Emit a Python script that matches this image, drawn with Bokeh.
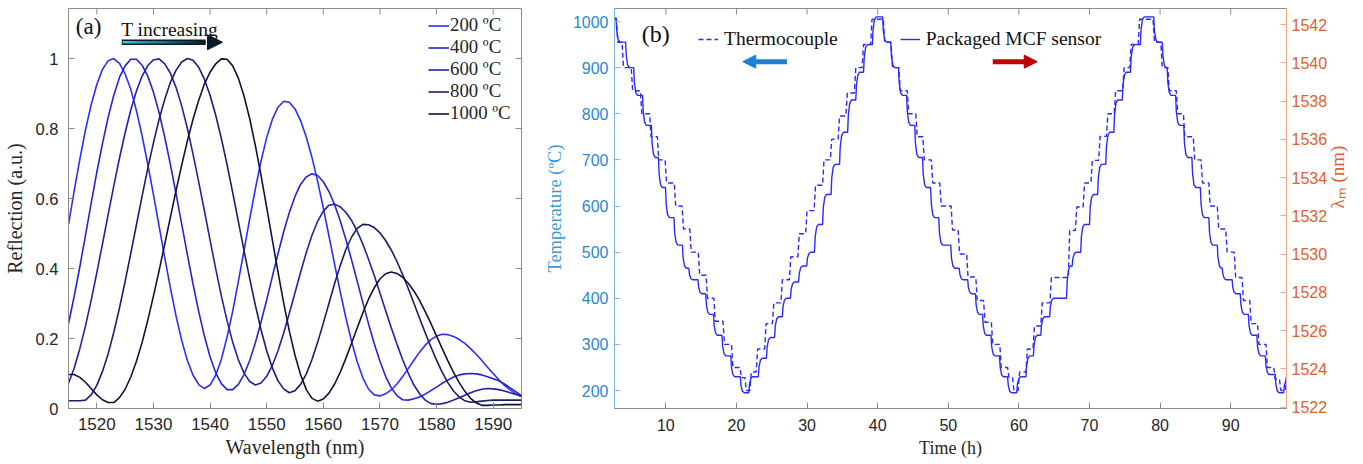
import math
from bokeh.plotting import figure
from bokeh.layouts import row
from bokeh.models import (Range1d, LinearAxis, FixedTicker, Legend, LegendItem,
                          Label, Arrow, NormalHead)
from bokeh.embed import file_html
from bokeh.resources import INLINE

# ---------------- Panel (a) data : reflection spectra ----------------
wavelength = list(range(1515, 1596))
refl_200 = [0.526, 0.621, 0.712, 0.796, 0.868, 0.926, 0.969, 0.994, 1.000, 0.986,
            0.956, 0.912, 0.851, 0.779, 0.698, 0.611, 0.521, 0.431, 0.344, 0.264,
            0.194, 0.137, 0.095, 0.068, 0.057, 0.067, 0.095, 0.141, 0.204, 0.278,
            0.363, 0.452, 0.542, 0.628, 0.707, 0.774, 0.826, 0.861, 0.878, 0.875,
            0.856, 0.822, 0.775, 0.717, 0.649, 0.573, 0.493, 0.412, 0.333, 0.258,
            0.191, 0.133, 0.087, 0.055, 0.039, 0.036, 0.042, 0.053, 0.070, 0.091,
            0.114, 0.138, 0.161, 0.181, 0.197, 0.207, 0.212, 0.211, 0.206, 0.197,
            0.186, 0.171, 0.155, 0.137, 0.118, 0.100, 0.082, 0.066, 0.053, 0.042,
            0.034]
refl_400 = [0.242, 0.320, 0.405, 0.495, 0.586, 0.675, 0.757, 0.832, 0.895, 0.946,
            0.979, 0.998, 0.998, 0.981, 0.950, 0.904, 0.845, 0.775, 0.697, 0.613,
            0.526, 0.439, 0.355, 0.277, 0.207, 0.148, 0.102, 0.071, 0.054, 0.054,
            0.069, 0.097, 0.137, 0.188, 0.247, 0.310, 0.377, 0.442, 0.505, 0.560,
            0.606, 0.641, 0.662, 0.671, 0.666, 0.648, 0.620, 0.582, 0.536, 0.482,
            0.424, 0.363, 0.301, 0.241, 0.185, 0.135, 0.092, 0.059, 0.037, 0.025,
            0.024, 0.028, 0.033, 0.041, 0.051, 0.061, 0.072, 0.081, 0.090, 0.096,
            0.099, 0.100, 0.099, 0.096, 0.091, 0.085, 0.079, 0.070, 0.059, 0.048,
            0.037]
refl_600 = [0.072, 0.115, 0.171, 0.236, 0.309, 0.388, 0.470, 0.554, 0.636, 0.715,
            0.788, 0.853, 0.907, 0.950, 0.980, 0.996, 0.999, 0.985, 0.958, 0.917,
            0.864, 0.800, 0.726, 0.647, 0.565, 0.481, 0.399, 0.321, 0.251, 0.189,
            0.139, 0.101, 0.077, 0.067, 0.073, 0.092, 0.123, 0.165, 0.216, 0.272,
            0.331, 0.390, 0.446, 0.495, 0.535, 0.564, 0.581, 0.584, 0.576, 0.560,
            0.537, 0.506, 0.469, 0.426, 0.380, 0.330, 0.280, 0.231, 0.184, 0.140,
            0.101, 0.067, 0.042, 0.024, 0.014, 0.012, 0.014, 0.018, 0.024, 0.031,
            0.038, 0.045, 0.051, 0.055, 0.057, 0.056, 0.054, 0.050, 0.045, 0.040,
            0.035]
refl_800 = [0.022, 0.022, 0.022, 0.024, 0.039, 0.066, 0.106, 0.156, 0.218, 0.287,
            0.363, 0.443, 0.525, 0.607, 0.686, 0.759, 0.826, 0.884, 0.932, 0.967,
            0.990, 1.000, 0.995, 0.975, 0.941, 0.895, 0.838, 0.771, 0.697, 0.617,
            0.534, 0.451, 0.371, 0.295, 0.225, 0.165, 0.116, 0.079, 0.056, 0.045,
            0.051, 0.069, 0.099, 0.140, 0.189, 0.244, 0.301, 0.357, 0.409, 0.455,
            0.490, 0.515, 0.526, 0.525, 0.517, 0.502, 0.480, 0.453, 0.420, 0.383,
            0.343, 0.301, 0.258, 0.216, 0.176, 0.138, 0.103, 0.074, 0.050, 0.033,
            0.022, 0.018, 0.019, 0.021, 0.023, 0.024, 0.024, 0.024, 0.024, 0.024,
            0.024]
refl_1000 = [0.097, 0.097, 0.089, 0.075, 0.057, 0.039, 0.025, 0.017, 0.017, 0.031,
             0.055, 0.090, 0.135, 0.189, 0.252, 0.321, 0.394, 0.470, 0.547, 0.623,
             0.696, 0.765, 0.827, 0.881, 0.927, 0.961, 0.985, 0.999, 0.998, 0.979,
             0.944, 0.893, 0.828, 0.751, 0.666, 0.575, 0.482, 0.390, 0.302, 0.221,
             0.152, 0.096, 0.054, 0.029, 0.021, 0.027, 0.044, 0.070, 0.104, 0.144,
             0.187, 0.231, 0.274, 0.313, 0.345, 0.370, 0.385, 0.390, 0.386, 0.375,
             0.358, 0.336, 0.309, 0.277, 0.243, 0.207, 0.171, 0.136, 0.103, 0.074,
             0.049, 0.029, 0.016, 0.009, 0.009, 0.010, 0.010, 0.011, 0.011, 0.011,
             0.011]
series_labels_a = ["200 ºC", "400 ºC", "600 ºC", "800 ºC", "1000 ºC"]
series_colors_a = ["#2d2dff", "#2424d6", "#2222a6", "#1c1c6c", "#121238"]
wl_ticks = [1520, 1530, 1540, 1550, 1560, 1570, 1580, 1590]
refl_ticks = [0, 0.2, 0.4, 0.6, 0.8, 1]

# ---------------- Panel (b) data : temperature cycling ----------------
# thermocouple: start value, then (time of step, new level) in degC
tc_start = (2.7, 1005)
tc_step_time = [3.0, 3.8, 5.1, 6.4, 7.7, 8.8, 9.9, 11.2, 12.3, 13.4, 14.6, 15.7, 16.8, 18.1, 19.3, 20.5, 21.2,
                21.9, 22.8, 24.0, 25.1, 26.3, 27.5, 28.7, 29.8, 31.0, 32.2, 33.3, 34.4, 35.5, 36.7, 37.8, 39.0,
                40.8, 41.9, 43.0, 44.2, 45.4, 46.4, 47.6, 48.8, 50.4, 51.4, 52.6, 53.9, 55.0, 56.1, 57.3, 58.4, 59.1,
                59.9, 61.0, 62.0, 63.1, 64.4, 67.0, 68.0, 69.1, 70.2, 71.3, 72.4, 73.5, 74.7, 75.7, 76.9,
                79.0, 80.1, 81.1, 82.3, 83.3, 84.7, 85.8, 86.9, 88.1, 89.3, 90.5, 91.6, 92.7, 93.8, 95.0, 96.1, 96.9, 97.7]
tc_step_temp = [955, 900, 850, 800, 750, 700, 650, 600, 550, 500, 450, 400, 350, 300, 250, 228, 200,
                240, 290, 345, 390, 440, 490, 540, 590, 645, 700, 745, 795, 845, 900, 950, 1005,
                955, 900, 850, 800, 750, 700, 650, 600, 548, 496, 446, 395, 348, 300, 250, 228, 200,
                240, 290, 340, 390, 445, 547, 598, 650, 699, 751, 800, 850, 900, 950, 1005,
                955, 900, 850, 800, 750, 700, 650, 600, 550, 500, 445, 395, 345, 300, 250, 225, 200, 235]
# packaged MCF sensor: (time of step, new lambda_m in nm)
mcf_start = (2.7, 1542.35)
mcf_step_time = [2.95, 4.3, 5.45, 6.7, 7.95, 8.95, 9.95, 11.15, 12.35, 13.25, 14.55, 15.65, 16.75, 17.95, 19.2, 20.55,
                 21.75, 23.1, 24.25, 25.4, 26.5, 27.65, 28.8, 29.95, 31.05, 32.2, 33.4, 34.6, 35.75, 36.9, 38.0, 39.25,
                 40.7, 41.85, 42.95, 44.1, 45.25, 46.35, 47.5, 48.65, 50.35, 51.55, 52.75, 53.85, 54.85, 56.05, 57.25, 58.4,
                 59.7, 61.0, 62.05, 63.1, 64.35, 66.75, 67.55, 68.75, 70.0, 71.15, 72.3, 73.45, 74.65, 75.8, 77.2,
                 79.1, 80.3, 81.0, 82.2, 83.35, 84.5, 85.7, 86.9, 88.1, 88.8, 90.2, 91.35, 92.5, 93.7, 94.9, 96.3, 97.5]
mcf_step_lam = [1541.08, 1539.75, 1538.30, 1536.73, 1535.05, 1533.48, 1531.91, 1530.47, 1529.26, 1528.66, 1527.93,
                1526.85, 1525.76, 1524.68, 1523.59, 1522.75,
                1523.59, 1524.56, 1525.64, 1526.73, 1527.69, 1528.54, 1529.38, 1530.10, 1531.55, 1533.12, 1534.69,
                1536.37, 1538.06, 1539.51, 1540.95, 1542.40,
                1541.08, 1539.75, 1538.30, 1536.73, 1535.05, 1533.48, 1531.91, 1530.47, 1529.26, 1528.66, 1527.93,
                1526.85, 1525.76, 1524.68, 1523.59, 1522.75,
                1523.59, 1524.68, 1525.76, 1526.73, 1527.69, 1529.38, 1530.10, 1531.55, 1533.12, 1534.69, 1536.37,
                1538.06, 1539.51, 1540.95, 1542.40,
                1541.08, 1539.75, 1538.30, 1536.73, 1535.05, 1533.48, 1531.91, 1530.47, 1529.26, 1528.66, 1527.93,
                1526.85, 1525.76, 1524.68, 1523.71, 1522.75, 1523.45]
time_end = 97.9
time_ticks = [10, 20, 30, 40, 50, 60, 70, 80, 90]
temp_ticks = [200, 300, 400, 500, 600, 700, 800, 900, 1000]
lam_ticks = [1522, 1524, 1526, 1528, 1530, 1532, 1534, 1536, 1538, 1540, 1542]


def stairs(start, times, levels, shape, t_end):
    xs, ys = [start[0]], [start[1]]
    prev = start[1]
    for t, lv in zip(times, levels):
        for dt, frac in shape:
            xs.append(t + dt)
            ys.append(prev + frac * (lv - prev))
        prev = lv
    xs.append(t_end)
    ys.append(prev)
    return xs, ys


TICK_FONT = "Liberation Sans"
SERIF = "Liberation Serif"
GREY = "#8c8c8c"
DARK = "#262626"
TICK_LEN = 6
TOP_B = 8
BOT_B = 54


def style_axis(ax, ticks, color_line=GREY, color_lab=DARK, size="17px", standoff=8):
    ax.ticker = FixedTicker(ticks=ticks)
    ax.minor_tick_line_color = None
    ax.major_tick_in = TICK_LEN
    ax.major_tick_out = 0
    ax.axis_line_color = color_line
    ax.major_tick_line_color = color_line
    ax.major_label_text_font = TICK_FONT
    ax.major_label_text_color = color_lab
    ax.major_label_text_font_size = size
    ax.major_label_standoff = standoff


# ---------------- Figure (a) ----------------
A_FW, A_FH = 453, 400
a_xr = (1515, 1595)
a_yr = (0, 1.143)
pa = figure(frame_width=A_FW, frame_height=A_FH,
            x_range=Range1d(*a_xr), y_range=Range1d(*a_yr),
            output_backend="svg", toolbar_location=None,
            min_border_left=64, min_border_right=20, min_border_top=TOP_B, min_border_bottom=BOT_B)
pa.grid.visible = False
pa.outline_line_color = GREY
pa.background_fill_color = "white"
pa.border_fill_color = "white"

rends = []
for vals, col in zip([refl_200, refl_400, refl_600, refl_800, refl_1000], series_colors_a):
    rends.append(pa.line(wavelength, vals, line_color=col, line_width=1.6))

style_axis(pa.xaxis[0], wl_ticks, size="17px", standoff=9)
style_axis(pa.yaxis[0], refl_ticks, size="16.5px", standoff=10)
pa.yaxis[0].major_label_overrides = {0: "0", 0.2: "0.2", 0.4: "0.4", 0.6: "0.6", 0.8: "0.8", 1: "1"}
pa.xaxis[0].axis_label = "Wavelength (nm)"
pa.yaxis[0].axis_label = "Reflection (a.u.)"
for ax in (pa.xaxis[0], pa.yaxis[0]):
    ax.axis_label_text_font = SERIF
    ax.axis_label_text_font_style = "normal"
    ax.axis_label_text_font_size = "20px"
    ax.axis_label_text_color = DARK
pa.xaxis[0].axis_label_standoff = 3
pa.yaxis[0].axis_label_standoff = 7

# mirrored inward ticks on top and right border (box style)
dy_a = TICK_LEN * (a_yr[1] - a_yr[0]) / A_FH
dx_a = TICK_LEN * (a_xr[1] - a_xr[0]) / A_FW
pa.segment(x0=wl_ticks, y0=[a_yr[1]] * len(wl_ticks), x1=wl_ticks, y1=[a_yr[1] - dy_a] * len(wl_ticks),
           line_color=GREY, line_width=1)
pa.segment(x0=[a_xr[1]] * len(refl_ticks), y0=refl_ticks, x1=[a_xr[1] - dx_a] * len(refl_ticks), y1=refl_ticks,
           line_color=GREY, line_width=1)

leg_a = Legend(items=[LegendItem(label=lab, renderers=[r]) for lab, r in zip(series_labels_a, rends)],
               location=(360, 284), border_line_alpha=0, background_fill_alpha=0,
               label_text_font=SERIF, label_text_font_size="18.8px", label_text_color=DARK,
               glyph_width=21, glyph_height=21, label_height=21, spacing=0,
               padding=0, margin=0, label_standoff=1)
pa.add_layout(leg_a)

pa.add_layout(Label(x=1516.3, y=1.092, text="(a)", text_font=SERIF, text_font_size="23px",
                    text_color="#111111", text_baseline="middle", text_align="left"))
pa.add_layout(Label(x=1524.3, y=1.083, text="T increasing", text_font=SERIF, text_font_size="19.5px",
                    text_color="#111111", text_baseline="alphabetic", text_align="left"))

# gradient arrow (decoration)
arr_x0, arr_x1, arr_tip, arr_y = 1524.4, 1539.2, 1542.2, 1.0466
pa.segment(x0=[arr_x0], y0=[arr_y], x1=[arr_x1], y1=[arr_y], line_color="#0b1a24", line_width=5.5)
nseg = 40
c0 = (56, 196, 238)
c1 = (12, 26, 36)
gx0, gx1, gcol = [], [], []
for i in range(nseg):
    f = i / (nseg - 1)
    gx0.append(arr_x0 + 0.15 + (arr_x1 - arr_x0 - 0.15) * i / nseg)
    gx1.append(arr_x0 + 0.15 + (arr_x1 - arr_x0 - 0.15) * (i + 1) / nseg + 0.05)
    gcol.append("#%02x%02x%02x" % tuple(int(c0[k] + (c1[k] - c0[k]) * f) for k in range(3)))
pa.segment(x0=gx0, y0=[arr_y] * nseg, x1=gx1, y1=[arr_y] * nseg, line_color=gcol, line_width=2.5)
pa.add_layout(Arrow(end=NormalHead(size=15, fill_color="#0b1a24", line_color="#0b1a24"),
                    x_start=arr_x1 - 0.5, y_start=arr_y, x_end=arr_tip, y_end=arr_y,
                    line_alpha=0, line_width=1))

# ---------------- Figure (b) ----------------
B_FW, B_FH = 672, 400
b_xr = (2.73, 97.9)
b_yr = (161.0, 1028.2)
pb = figure(frame_width=B_FW, frame_height=B_FH,
            x_range=Range1d(*b_xr), y_range=Range1d(*b_yr),
            output_backend="svg", toolbar_location=None,
            min_border_left=72, min_border_right=74, min_border_top=TOP_B, min_border_bottom=BOT_B)
pb.extra_y_ranges = {"lam": Range1d(1521.93, 1542.84)}
pb.grid.visible = False
pb.outline_line_color = GREY
pb.background_fill_color = "white"
pb.border_fill_color = "white"

BLUE_LINE = "#2a2aff"
tx, ty = stairs(tc_start, tc_step_time, tc_step_temp, [(0, 0), (0.2, 1)], time_end)
mx, my = stairs(mcf_start, mcf_step_time, mcf_step_lam,
                [(0, 0), (0.1, 0.55), (0.3, 0.9), (0.55, 1)], time_end)
r_tc = pb.line(tx, ty, line_color=BLUE_LINE, line_width=1.4, line_dash="5 3")
r_mcf = pb.line(mx, my, line_color=BLUE_LINE, line_width=1.4, y_range_name="lam")

style_axis(pb.xaxis[0], time_ticks, size="16px", standoff=10)
pb.xaxis[0].axis_label = "Time (h)"
pb.xaxis[0].axis_label_text_font = SERIF
pb.xaxis[0].axis_label_text_font_style = "normal"
pb.xaxis[0].axis_label_text_font_size = "18px"
pb.xaxis[0].axis_label_text_color = DARK
pb.xaxis[0].axis_label_standoff = 4

LBLUE_LAB = "#2a88d0"
style_axis(pb.yaxis[0], temp_ticks, color_line="#7fb6e3", color_lab=LBLUE_LAB, size="16px", standoff=6)
pb.yaxis[0].axis_label = "Temperature (ºC)"
pb.yaxis[0].axis_label_text_font = SERIF
pb.yaxis[0].axis_label_text_font_style = "normal"
pb.yaxis[0].axis_label_text_font_size = "18.5px"
pb.yaxis[0].axis_label_text_color = "#3a9ad9"
pb.yaxis[0].axis_label_standoff = 5

ORANGE = "#e0602c"
right_b = LinearAxis(y_range_name="lam")
style_axis(right_b, lam_ticks, color_line="#f2a585", color_lab=ORANGE, size="16px", standoff=5)
right_b.axis_label = "λₘ (nm)"
right_b.axis_label_text_font = SERIF
right_b.axis_label_text_font_style = "normal"
right_b.axis_label_text_font_size = "19px"
right_b.axis_label_text_color = ORANGE
right_b.axis_label_standoff = 7
right_b.axis_label_orientation = math.pi / 2
pb.add_layout(right_b, "right")

dy_b = TICK_LEN * (b_yr[1] - b_yr[0]) / B_FH
pb.segment(x0=time_ticks, y0=[b_yr[1]] * len(time_ticks), x1=time_ticks,
           y1=[b_yr[1] - dy_b] * len(time_ticks), line_color=GREY, line_width=1)

leg_b = Legend(items=[LegendItem(label="Thermocouple", renderers=[r_tc]),
                      LegendItem(label="Packaged MCF sensor", renderers=[r_mcf])],
               orientation="horizontal", location=(82, 355),
               border_line_alpha=0, background_fill_alpha=0,
               label_text_font=SERIF, label_text_font_size="19.5px", label_text_color="#111111",
               glyph_width=20, glyph_height=24, label_height=24, spacing=62,
               padding=2, margin=0, label_standoff=6)
pb.add_layout(leg_b)

pb.add_layout(Label(x=6.6, y=974, text="(b)", text_font=SERIF, text_font_size="24px",
                    text_color="#111111", text_baseline="middle", text_align="left"))

pb.add_layout(Arrow(end=NormalHead(size=13, fill_color="#1e7fd2", line_color="#1e7fd2"),
                    x_start=27.15, y_start=913, x_end=20.9, y_end=913,
                    line_color="#1e7fd2", line_width=5))
pb.add_layout(Arrow(end=NormalHead(size=13, fill_color="#c00000", line_color="#c00000"),
                    x_start=56.3, y_start=913, x_end=62.6, y_end=913,
                    line_color="#c00000", line_width=5))

layout = row(pa, pb)
open("out.html", "w").write(file_html(layout, INLINE))
